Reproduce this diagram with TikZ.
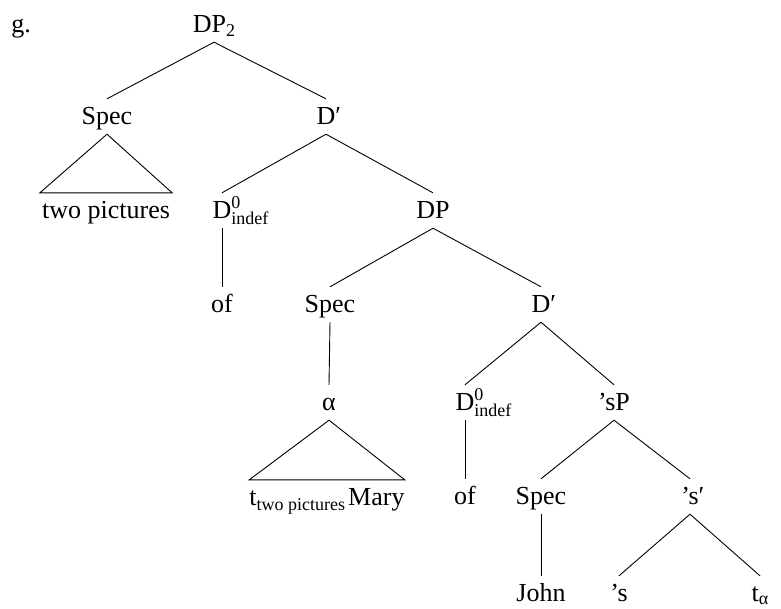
\documentclass[tikz,border=0pt]{standalone}
\usepackage{fontspec}
\setmainfont{Liberation Serif}
\newcommand\bigf{\fontsize{26}{30}\selectfont}
\newcommand\subf{\fontsize{18}{20}\selectfont}
\newcommand\dzi{D\rlap{\raisebox{9.5pt}{\subf 0}}\rlap{\raisebox{-6pt}{\subf indef}}}
\newcommand\pr{\rlap{′}}
\begin{document}
\begin{tikzpicture}[x=1pt,y=-1pt,
  lab/.style={anchor=base,font=\bigf,inner xsep=0pt,inner ysep=7pt,text height=18pt,text depth=3pt},
  edge/.style={line width=0.9pt},
  tri/.style={line width=0.9pt,line join=miter}]
\useasboundingbox (0,0) rectangle (781,608);
\node[lab] (g) at (21,32) {g.};
\node[lab] (dp2) at (214,32) {DP\raisebox{-4pt}{\subf 2}};
\node[lab] (spec1) at (107,124) {Spec};
\node[lab] (dbar1) at (326,124) {D\pr};
\node[lab,inner xsep=2pt] (twopic) at (106,218) {two pictures};
\node[lab] (d0a) at (222,218) {\dzi};
\node[lab] (dp) at (433,218) {DP};
\node[lab] (of1) at (222,312) {of};
\node[lab] (spec2) at (330,312) {Spec};
\node[lab] (dbar2) at (541,312) {D\pr};
\node[lab] (alpha) at (329,410) {α};
\node[lab] (d0b) at (465,410) {\dzi};
\node[lab] (sp) at (614,410) {’sP};
\node[lab] (tmary) at (327,505) {t\raisebox{-5pt}{\subf two pictures}\hspace{3pt}Mary};
\node[lab] (of2) at (465,504) {of};
\node[lab] (spec3) at (541,504) {Spec};
\node[lab] (sbar) at (690,504) {’s\pr};
\node[lab] (john) at (541,601) {John};
\node[lab] (s) at (619,601) {’s};
\node[lab] (ta) at (760,601) {t\raisebox{-3pt}{\subf α}};
\draw[edge] (dp2.south) -- (spec1.north);
\draw[edge] (dp2.south) -- (dbar1.north);
\draw[tri] (spec1.south) -- (twopic.north west) -- (twopic.north east) -- cycle;
\draw[edge] (dbar1.south) -- (d0a.north);
\draw[edge] (dbar1.south) -- (dp.north);
\draw[edge] (d0a.south) -- (of1.north);
\draw[edge] (dp.south) -- (spec2.north);
\draw[edge] (dp.south) -- (dbar2.north);
\draw[edge] (spec2.south) -- (alpha.north);
\draw[tri] (alpha.south) -- (tmary.north west) -- (tmary.north east) -- cycle;
\draw[edge] (dbar2.south) -- (d0b.north);
\draw[edge] (dbar2.south) -- (sp.north);
\draw[edge] (d0b.south) -- (of2.north);
\draw[edge] (sp.south) -- (spec3.north);
\draw[edge] (sp.south) -- (sbar.north);
\draw[edge] (spec3.south) -- (john.north);
\draw[edge] (sbar.south) -- (s.north);
\draw[edge] (sbar.south) -- (ta.north);
\end{tikzpicture}
\end{document}
